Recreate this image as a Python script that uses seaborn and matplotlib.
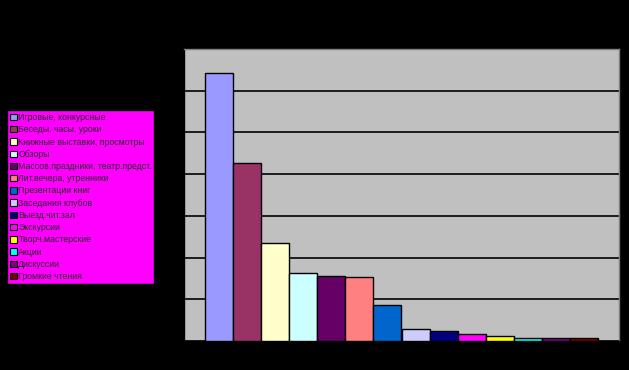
import matplotlib
matplotlib.use("Agg")
import matplotlib.pyplot as plt
import seaborn as sns
import pandas as pd
from matplotlib.patches import Patch

categories = [
    "Игровые, конкурсные",
    "Беседы, часы, уроки",
    "Книжные выставки, просмотры",
    "Обзоры",
    "Массов.праздники, театр.предст.",
    "Лит.вечера, утренники",
    "Презентации книг",
    "Заседания клубов",
    "Выезд.чит.зал",
    "Экскурсии",
    "Творч.мастерские",
    "Акции",
    "Дискуссии",
    "Громкие чтения",
]
values = [642, 426, 234, 162, 155, 153, 86, 28, 23, 16, 11, 6, 6, 6]
colors = ["#9999FF", "#993366", "#FFFFCC", "#CCFFFF", "#660066", "#FF8080",
          "#0066CC", "#CCCCFF", "#000080", "#FF00FF", "#FFFF00", "#00FFFF",
          "#800080", "#800000"]

df = pd.DataFrame({"group": [""] * len(categories), "type": categories, "value": values})

sns.set_style("white")
plt.rcParams["font.family"] = ["Liberation Sans", "DejaVu Sans"]

fig = plt.figure(figsize=(6.29, 3.70), dpi=100, facecolor="black")
ax = fig.add_axes([184 / 629, 29 / 370, 435 / 629, 292 / 370])
ax.set_facecolor("#C0C0C0")

sns.barplot(data=df, x="group", y="value", hue="type", hue_order=categories,
            palette=colors, saturation=1, width=393 / 435, dodge=True, ax=ax,
            edgecolor="black", linewidth=1, legend=False, zorder=3)

ax.set_ylim(0, 700)
ax.set_xlim(-0.5, 0.5)
ax.set_yticks(range(0, 701, 100))
ax.yaxis.grid(True, color="black", linewidth=1.2, zorder=1)
ax.set_axisbelow(True)
ax.tick_params(axis="y", left=True, length=4, color="black", labelcolor="black", labelsize=7)
ax.tick_params(axis="x", bottom=False, labelbottom=False)
ax.set_xlabel("")
ax.set_ylabel("")
for s in ["top", "right"]:
    ax.spines[s].set_color("#808080")
    ax.spines[s].set_linewidth(1)
for s in ["left", "bottom"]:
    ax.spines[s].set_color("black")
    ax.spines[s].set_linewidth(1)

handles = [Patch(facecolor=c, edgecolor="black", linewidth=0.8) for c in colors]
leg = fig.legend(handles, categories, loc="upper left",
                 bbox_to_anchor=(7 / 629, 260 / 370, 147 / 629, 0),
                 mode="expand", fontsize=6.3, frameon=True, fancybox=False,
                 handlelength=0.75, handleheight=0.75, handletextpad=0.2,
                 labelspacing=0.37, borderpad=0.35, borderaxespad=0)
frame = leg.get_frame()
frame.set_facecolor("#FF00FF")
frame.set_edgecolor("black")
frame.set_alpha(1)
frame.set_linewidth(1)

fig.savefig("out.png", dpi=100, facecolor="black")
